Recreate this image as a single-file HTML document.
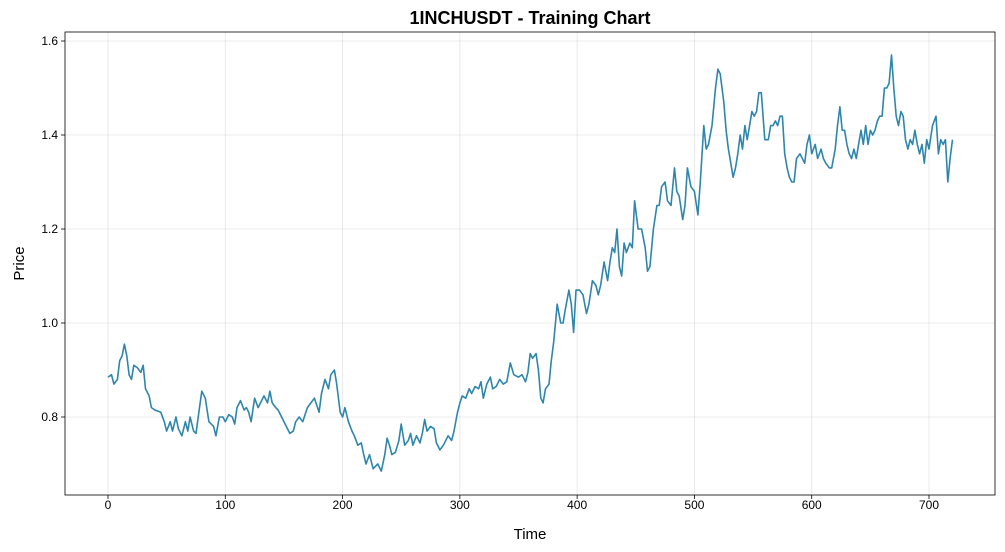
<!DOCTYPE html>
<html><head><meta charset="utf-8"><style>
body{margin:0;background:#fff;}
svg{display:block;font-family:"Liberation Sans","DejaVu Sans",sans-serif;}
</style></head><body>
<svg id="chart" width="1005" height="552"></svg>
<script>
const times=[0,3,5,8,10,12,14,16,18,20,22,25,28,30,32,35,37,40,45,48,50,53,55,58,60,63,66,68,70,73,75,78,80,83,86,90,92,95,98,100,103,106,108,110,113,116,118,120,122,125,128,130,133,136,138,140,143,145,148,152,155,158,160,163,166,170,173,176,180,182,185,188,190,193,195,198,200,202,205,208,210,213,216,218,220,223,226,230,233,236,238,240,242,245,248,250,253,256,258,260,263,266,268,270,272,275,278,280,283,286,290,293,295,298,300,302,305,308,310,313,316,318,320,323,326,328,331,334,337,340,343,346,350,353,356,358,360,362,365,367,369,371,373,376,378,380,383,386,388,390,393,395,397,399,402,405,408,410,413,416,418,420,423,426,428,430,432,434,436,438,440,442,445,447,449,452,455,458,460,462,465,468,470,472,475,477,480,483,485,487,490,492,494,497,500,503,505,508,510,512,515,518,520,522,525,527,529,531,533,535,537,539,541,543,545,547,549,551,553,555,557,560,563,565,567,569,571,573,575,577,579,581,583,585,587,590,592,594,596,598,600,603,605,608,610,612,615,617,620,622,624,626,628,630,632,634,636,638,640,642,644,646,648,650,652,654,656,658,660,662,664,666,668,670,672,674,676,678,680,682,684,686,688,690,692,694,696,698,700,703,706,708,710,712,714,716,718,720];
const prices=[0.885,0.89,0.87,0.88,0.92,0.93,0.955,0.93,0.89,0.88,0.91,0.905,0.895,0.91,0.86,0.845,0.82,0.815,0.81,0.79,0.77,0.79,0.77,0.8,0.775,0.76,0.79,0.77,0.8,0.77,0.765,0.82,0.855,0.84,0.79,0.78,0.76,0.8,0.8,0.79,0.805,0.8,0.785,0.82,0.835,0.815,0.82,0.81,0.79,0.84,0.82,0.83,0.845,0.83,0.855,0.83,0.82,0.815,0.8,0.78,0.765,0.77,0.79,0.8,0.79,0.82,0.83,0.84,0.81,0.85,0.88,0.86,0.89,0.9,0.87,0.81,0.8,0.82,0.79,0.77,0.76,0.74,0.745,0.72,0.7,0.72,0.69,0.7,0.685,0.72,0.755,0.74,0.72,0.725,0.75,0.785,0.74,0.75,0.765,0.74,0.76,0.745,0.765,0.795,0.77,0.78,0.775,0.745,0.73,0.74,0.76,0.75,0.77,0.81,0.83,0.845,0.84,0.86,0.85,0.865,0.86,0.875,0.84,0.87,0.885,0.86,0.865,0.88,0.87,0.875,0.915,0.89,0.885,0.89,0.875,0.895,0.935,0.925,0.935,0.9,0.84,0.83,0.86,0.87,0.92,0.96,1.04,1.0,1.0,1.03,1.07,1.04,0.98,1.07,1.07,1.06,1.02,1.04,1.09,1.08,1.06,1.08,1.13,1.09,1.13,1.16,1.15,1.2,1.12,1.10,1.17,1.15,1.17,1.16,1.26,1.2,1.2,1.16,1.11,1.12,1.2,1.25,1.25,1.29,1.3,1.26,1.25,1.33,1.28,1.27,1.22,1.25,1.33,1.29,1.28,1.23,1.3,1.42,1.37,1.38,1.42,1.5,1.54,1.53,1.47,1.41,1.37,1.34,1.31,1.33,1.36,1.4,1.37,1.42,1.39,1.42,1.45,1.44,1.45,1.49,1.49,1.39,1.39,1.42,1.42,1.43,1.42,1.44,1.44,1.36,1.33,1.31,1.3,1.3,1.35,1.36,1.35,1.34,1.38,1.4,1.36,1.38,1.35,1.37,1.35,1.34,1.33,1.33,1.37,1.42,1.46,1.41,1.41,1.38,1.36,1.35,1.37,1.35,1.38,1.41,1.38,1.42,1.38,1.41,1.4,1.41,1.43,1.44,1.44,1.5,1.5,1.51,1.57,1.5,1.44,1.42,1.45,1.44,1.39,1.37,1.39,1.38,1.41,1.38,1.36,1.38,1.34,1.39,1.37,1.42,1.44,1.36,1.39,1.38,1.39,1.30,1.35,1.39,1.37];
const xTicks=[0,100,200,300,400,500,600,700];
const yTicks=[0.8,1.0,1.2,1.4,1.6];

const NS="http://www.w3.org/2000/svg";
const svg=document.getElementById('chart');
const L=65,R=995,T=32,B=495;
const xs=t=>108+(t-0)*(929-108)/700;
const ys=v=>417-(v-0.8)*(417-41)/0.8;
function mk(tag,attrs,parent){const e=document.createElementNS(NS,tag);for(const k in attrs)e.setAttribute(k,attrs[k]);(parent||svg).appendChild(e);return e;}

const grid=mk('g',{});


xTicks.forEach(t=>{const l=mk('line',{x1:xs(t),x2:xs(t),y1:T,y2:B,stroke:'#000','stroke-opacity':0.1,'stroke-width':0.8},grid);

});
yTicks.forEach(v=>{const l=mk('line',{x1:L,x2:R,y1:ys(v),y2:ys(v),stroke:'#000','stroke-opacity':0.1,'stroke-width':0.8},grid);

});

const d=times.map((t,i)=>(i?'L':'M')+xs(t).toFixed(1)+','+ys(prices[i]).toFixed(1)).join('');
const line=mk('path',{d:d,fill:'none',stroke:'#2E86AB','stroke-width':1.6,'stroke-linejoin':'round'});



const frame=mk('rect',{x:L,y:T,width:R-L,height:B-T,fill:'none',stroke:'#000','stroke-width':0.8});



xTicks.forEach(t=>{mk('line',{x1:xs(t),x2:xs(t),y1:B,y2:B+4,stroke:'#000','stroke-width':0.8});
const tx=mk('text',{x:xs(t),y:B+14,'font-size':12,'text-anchor':'middle',fill:'#000'});tx.textContent=t;

});
yTicks.forEach(v=>{mk('line',{x1:L-4,x2:L,y1:ys(v),y2:ys(v),stroke:'#000','stroke-width':0.8});
const tx=mk('text',{x:L-7,y:ys(v)+4,'font-size':12,'text-anchor':'end',fill:'#000'});tx.textContent=v.toFixed(1);

});

const title=mk('text',{x:(L+R)/2,y:24,'font-size':18,'font-weight':'bold','text-anchor':'middle'});title.textContent='1INCHUSDT - Training Chart';


const xt=mk('text',{x:(L+R)/2,y:539,'font-size':15,'text-anchor':'middle'});xt.textContent='Time';


const yt=mk('text',{x:24,y:(T+B)/2,'font-size':15,'text-anchor':'middle',transform:'rotate(-90 24 '+((T+B)/2)+')'});yt.textContent='Price';


</script>
</body></html>
